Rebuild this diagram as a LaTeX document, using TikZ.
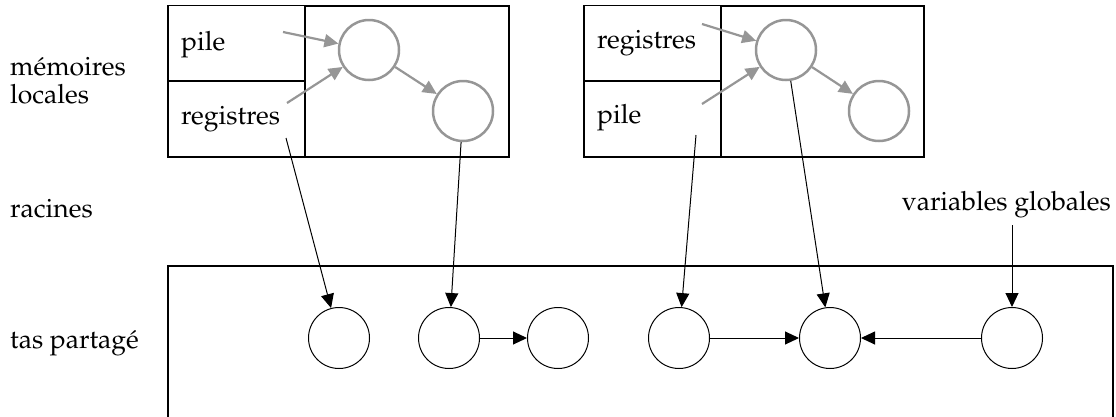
\documentclass[tikz,border=0pt]{standalone}
\usepackage[T1]{fontenc}
\usepackage{mathpazo}
\usetikzlibrary{arrows.meta}
\definecolor{gc}{RGB}{150,150,150}
\tikzset{
  lbl/.style={font=\fontsize{26.5}{28}\selectfont, inner sep=0pt, anchor=base west},
  cell/.style={draw, line width=1.2pt, inner sep=0pt},
  gcirc/.style={circle, draw=gc, line width=2.5pt, minimum size=60pt, inner sep=0pt},
  hcirc/.style={circle, draw, line width=1pt, minimum size=61pt, inner sep=0pt},
  garr/.style={draw=gc, line width=2.2pt, -{Triangle[length=14pt,width=13pt]}},
  barr/.style={draw, line width=1pt, -{Triangle[length=14pt,width=13pt]}},
}
\begin{document}
\begin{tikzpicture}[x=1pt,y=-1pt]
\useasboundingbox (0,0) rectangle (1116,416);
% left labels
\node[lbl, align=left] (ml) at (10,103) {m\'emoires\\locales};
\node[lbl] (rac) at (10,217) {racines};
\node[lbl] (tas) at (10,348) {tas partag\'e};
% heap
\draw[line width=1.2pt] (168,430) -- (168,266) -- (1113,266) -- (1113,430);
\node[hcirc] (h1) at (339,338) {};
\node[hcirc] (h2) at (449,338) {};
\node[hcirc] (h3) at (558,338) {};
\node[hcirc] (h4) at (679,338) {};
\node[hcirc] (h5) at (830,338) {};
\node[hcirc] (h6) at (1012,338) {};
\draw[barr] (h2) -- (h3);
\draw[barr] (h4) -- (h5);
\draw[barr] (h6) -- (h5);
% box 1
\node[cell, minimum width=137pt, minimum height=76pt] (p1) at (236.5,43.5) {};
\node[cell, minimum width=137pt, minimum height=76pt] (r1) at (236.5,119) {};
\node[cell, minimum width=204pt, minimum height=151pt] (m1) at (407,81.5) {};
\node[lbl, anchor=west] (t1) at (181,45) {pile};
\node[lbl, anchor=west] (t2) at (181,119) {registres};
\node[gcirc] (A) at (369,50) {};
\node[gcirc] (B) at (463,111) {};
\coordinate (a1) at (283,32);
\coordinate (a2) at (287,103);
\coordinate (a3) at (286,138);
\draw[garr] (a1) -- (A);
\draw[garr] (a2) -- (A);
\draw[garr] (A) -- (B);
\draw[barr] (a3) -- (h1);
\draw[barr] (B) -- (h2);
% box 2
\node[cell, minimum width=137pt, minimum height=76pt] (r2) at (652.5,43.5) {};
\node[cell, minimum width=137pt, minimum height=76pt] (p2) at (652.5,119) {};
\node[cell, minimum width=203pt, minimum height=151pt] (m2) at (822.5,81.5) {};
\node[lbl, anchor=west] (t3) at (597,43) {registres};
\node[lbl, anchor=west] (t4) at (597,118) {pile};
\node[gcirc] (C) at (786,50) {};
\node[gcirc] (D) at (879,111) {};
\coordinate (b1) at (702,24);
\coordinate (b2) at (702,104);
\coordinate (b3) at (696,135);
\draw[garr] (b1) -- (C);
\draw[garr] (b2) -- (C);
\draw[garr] (C) -- (D);
\draw[barr] (b3) -- (h4);
\draw[barr] (C) -- (h5);
% globals
\node[lbl, anchor=base east] (vg) at (1111,210) {variables globales};
\coordinate (g1) at (1012,225);
\draw[barr] (g1) -- (h6);
\end{tikzpicture}
\end{document}
